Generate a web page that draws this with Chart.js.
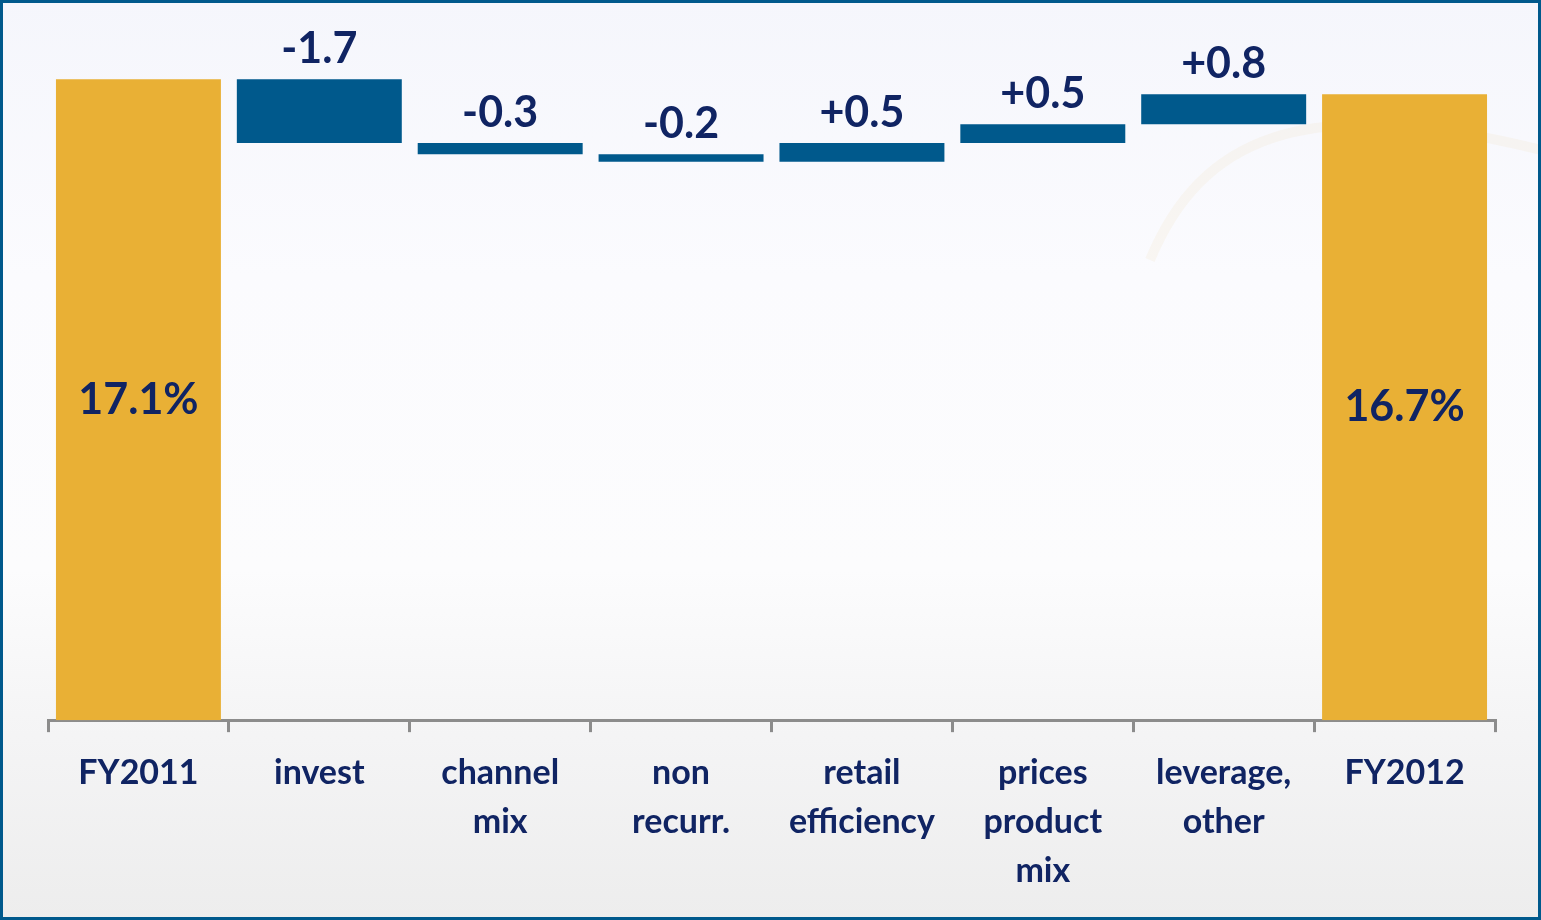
<!DOCTYPE html>
<html>
<head>
<meta charset="utf-8">
<script src="https://cdn.jsdelivr.net/npm/chart.js@4"></script>
<style>
  html, body { margin: 0; padding: 0; overflow: hidden; background: #ffffff; }
  #wrap { width: 1541px; height: 920px; }
</style>
</head>
<body>
<div id="wrap"><canvas id="c" width="1541" height="920"></canvas></div>
<script>
// ---- data ----
const categoryLabels = [
  "FY2011",
  "invest",
  ["channel", "mix"],
  ["non", "recurr."],
  ["retail", "efficiency"],
  ["prices", "product", "mix"],
  ["leverage,", "other"],
  "FY2012"
];
const startValue = 17.1;
const deltaValues = [-1.7, -0.3, -0.2, 0.5, 0.5, 0.8];
const endValue = 16.7;
const valueLabels = ["17.1%", "-1.7", "-0.3", "-0.2", "+0.5", "+0.5", "+0.8", "16.7%"];

// ---- build floating bars from the data ----
const barData = [[0, startValue]];
let running = startValue;
deltaValues.forEach(d => {
  const next = Math.round((running + d) * 10) / 10;
  barData.push([running, next]);
  running = next;
});
barData.push([0, endValue]);

const GOLD = "#E9B035";
const BLUE = "#00598C";
const NAVY = "#102463";
const barColors = barData.map((_, i) => (i === 0 || i === barData.length - 1) ? GOLD : BLUE);

const bgPlugin = {
  id: "bg",
  beforeDraw(chart) {
    const ctx = chart.ctx;
    const w = chart.width, h = chart.height;
    ctx.save();
    const g = ctx.createLinearGradient(0, 0, 0, h);
    g.addColorStop(0, "#F5F6FC");
    g.addColorStop(0.3, "#FBFBFE");
    g.addColorStop(0.62, "#FCFCFD");
    g.addColorStop(0.8, "#F4F4F5");
    g.addColorStop(1, "#EDEDED");
    ctx.fillStyle = g;
    ctx.fillRect(0, 0, w, h);
    // very faint swoosh top right
    ctx.strokeStyle = "rgba(235, 205, 140, 0.10)";
    ctx.lineWidth = 10;
    ctx.beginPath();
    ctx.moveTo(1150, 260);
    ctx.bezierCurveTo(1200, 140, 1300, 90, 1541, 150);
    ctx.stroke();
    ctx.restore();
  },
  afterDraw(chart) {
    const ctx = chart.ctx;
    ctx.save();
    ctx.strokeStyle = BLUE;
    ctx.lineWidth = 3;
    ctx.strokeRect(1.5, 1.5, chart.width - 3, chart.height - 3);
    ctx.restore();
  }
};

const labelPlugin = {
  id: "valueLabels",
  afterDatasetsDraw(chart) {
    const ctx = chart.ctx;
    const meta = chart.getDatasetMeta(0);
    ctx.save();
    ctx.font = "bold 43px Lato";
    ctx.fillStyle = NAVY;
    ctx.textAlign = "center";
    ctx.textBaseline = "middle";
    meta.data.forEach((bar, i) => {
      const p = bar.getProps(["x", "y", "base"], true);
      const top = Math.min(p.y, p.base);
      const bottom = Math.max(p.y, p.base);
      let ty;
      if (i === 0 || i === meta.data.length - 1) {
        ty = (top + bottom) / 2;
      } else {
        ty = top - 30;
      }
      ctx.fillText(valueLabels[i], p.x, ty);
    });
    ctx.restore();
  }
};

function draw() {
  new Chart(document.getElementById("c"), {
    type: "bar",
    data: {
      labels: categoryLabels,
      datasets: [{
        data: barData,
        backgroundColor: barColors,
        borderWidth: 0,
        barPercentage: 0.912,
        categoryPercentage: 1.0
      }]
    },
    options: {
      responsive: false,
      animation: false,
      layout: { padding: { left: 48, right: 46, top: 8, bottom: 8 } },
      plugins: { legend: { display: false }, tooltip: { enabled: false } },
      scales: {
        x: {
          offset: true,
          grid: {
            display: true,
            offset: true,
            drawOnChartArea: false,
            drawTicks: true,
            tickLength: 12,
            color: "#8C8C8C",
            lineWidth: 3
          },
          border: { display: true, color: "#8C8C8C", width: 3 },
          ticks: {
            color: NAVY,
            font: { family: "Lato", weight: "bold", size: 34, lineHeight: 1.43 },
            padding: 17,
            maxRotation: 0,
            autoSkip: false
          }
        },
        y: {
          display: false,
          min: 0,
          max: 19
        }
      }
    },
    plugins: [bgPlugin, labelPlugin]
  });
}

if (document.fonts && document.fonts.load) {
  Promise.all([document.fonts.load("bold 34px Lato"), document.fonts.load("bold 43px Lato")])
    .then(draw, draw);
} else {
  draw();
}
</script>
</body>
</html>
